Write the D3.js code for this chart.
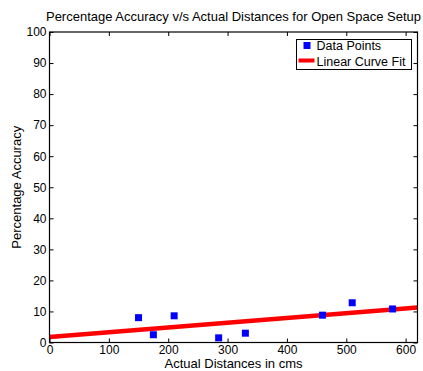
<!DOCTYPE html>
<html>
<head>
<meta charset="utf-8">
<script src="https://cdn.jsdelivr.net/npm/d3@7"></script>
<style>
  body { margin: 0; background: #fff; }
  svg text { font-family: "Liberation Sans", Arial, sans-serif; fill: #000; }
</style>
</head>
<body>
<svg id="chart" width="423" height="371"></svg>
<script>
// measured points
const distances = [150, 175, 210, 285, 330, 460, 510, 578];
const accuracy = [8, 2.5, 8.6, 1.5, 3.0, 8.8, 12.8, 10.8];
// linear fit endpoints
const fitX = [0, 620];
const fitY = [1.8, 11.3];
const xTicks = [0, 100, 200, 300, 400, 500, 600];
const yTicks = [0, 10, 20, 30, 40, 50, 60, 70, 80, 90, 100];
const legendLabels = ["Data Points", "Linear Curve Fit"];

const width = 423, height = 371;
const margin = { top: 32, right: 5.5, bottom: 28.5, left: 49.5 };
const w = width - margin.left - margin.right;
const h = height - margin.top - margin.bottom;

const svg = d3.select("#chart");
const g = svg.append("g")
  .attr("transform", `translate(${margin.left},${margin.top})`);

const x = d3.scaleLinear().domain([0, 620]).range([0, w]);
const y = d3.scaleLinear().domain([0, 100]).range([h, 0]);

// fit line
g.append("line")
  .attr("x1", x(fitX[0])).attr("y1", y(fitY[0]))
  .attr("x2", x(fitX[1])).attr("y2", y(fitY[1]))
  .attr("stroke", "#ff0000")
  .attr("stroke-width", 4.5);

// points
const sz = 7;
g.selectAll(".pt")
  .data(distances.map((d, i) => [d, accuracy[i]]))
  .enter()
  .append("rect")
  .attr("class", "pt")
  .attr("x", d => x(d[0]) - sz / 2)
  .attr("y", d => y(d[1]) - sz / 2)
  .attr("width", sz)
  .attr("height", sz)
  .attr("fill", "#0000ff");

// axes (ticks inward, box)
const tk = 4;
const styleAxis = sel => {
  sel.select(".domain").remove();
  sel.selectAll("line").attr("stroke", "#000");
  sel.selectAll("text").style("font-size", "12px");
};
g.append("g")
  .attr("transform", `translate(0,${h})`)
  .call(d3.axisBottom(x).tickValues(xTicks).tickSize(-tk).tickPadding(2.5))
  .call(styleAxis);
g.append("g")
  .call(d3.axisLeft(y).tickValues(yTicks).tickSize(-tk).tickPadding(3))
  .call(styleAxis);
g.append("g")
  .call(d3.axisTop(x).tickValues(xTicks).tickSize(-tk).tickFormat(""))
  .call(styleAxis);
g.append("g")
  .attr("transform", `translate(${w},0)`)
  .call(d3.axisRight(y).tickValues(yTicks).tickSize(-tk).tickFormat(""))
  .call(styleAxis);
g.selectAll(".tick text").attr("fill", "#000");

g.append("rect")
  .attr("width", w).attr("height", h)
  .attr("fill", "none").attr("stroke", "#000").attr("stroke-width", 1.2);

// legend
const lg = svg.append("g").attr("transform", "translate(296.5,39.5)");
lg.append("rect").attr("width", 115).attr("height", 30)
  .attr("fill", "#fff").attr("stroke", "#000").attr("stroke-width", 1);
lg.append("rect").attr("x", 7).attr("y", 2.5).attr("width", sz).attr("height", sz)
  .attr("fill", "#0000ff");
lg.append("line").attr("x1", 2).attr("x2", 18).attr("y1", 21).attr("y2", 21)
  .attr("stroke", "#ff0000").attr("stroke-width", 4);
lg.selectAll(".lt")
  .data(legendLabels)
  .enter()
  .append("text")
  .attr("x", 20)
  .attr("y", (d, i) => 10.5 + i * 15.5)
  .style("font-size", "12.5px")
  .text(d => d);

// titles
svg.append("text")
  .attr("x", margin.left + w / 2).attr("y", 20.5)
  .attr("text-anchor", "middle").style("font-size", "13px")
  .text("Percentage Accuracy v/s Actual Distances for Open Space Setup");
svg.append("text")
  .attr("x", margin.left + w / 2).attr("y", 368)
  .attr("text-anchor", "middle").style("font-size", "13px")
  .text("Actual Distances in cms");
svg.append("text")
  .attr("transform", `translate(21,${margin.top + h / 2}) rotate(-90)`)
  .attr("text-anchor", "middle").style("font-size", "13px")
  .text("Percentage Accuracy");
</script>
</body>
</html>
